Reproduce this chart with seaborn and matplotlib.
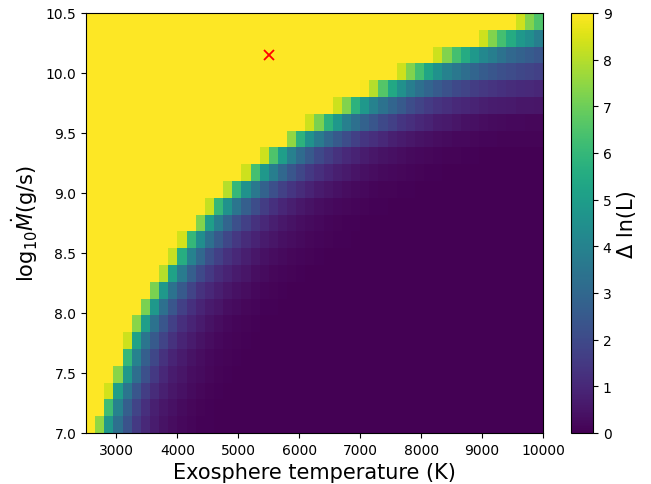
import numpy as np
import pandas as pd
import matplotlib
matplotlib.use("Agg")
import matplotlib.pyplot as plt
import seaborn as sns

# model grid: 50 temperature cells (150 K) and 25 mass-loss cells (0.14 dex)
t_min, t_max, n_t = 2500, 10000, 50
m_min, m_max, n_m = 7.0, 10.5, 25
vmax = 9

# saturated cells (delta lnL >= 9) at the start of each row, bottom row first
yellow_cols = [1, 2, 2, 3, 4, 4, 5, 6, 7, 8, 9, 10, 12, 13, 15, 17, 19, 22,
               24, 27, 30, 34, 38, 43, 47]

# delta lnL in the cells right of the saturated part (rest of row ~0)
row_values = [
    [7.5, 4.8, 3.3, 2.3, 1.5, 1.0, 0.7, 0.45, 0.3, 0.2, 0.12, 0.07, 0.04],
    [6.2, 4.0, 2.7, 1.8, 1.2, 0.8, 0.55, 0.4, 0.25, 0.15, 0.1, 0.06],
    [8.4, 5.0, 3.5, 2.4, 1.6, 1.1, 0.8, 0.55, 0.4, 0.25, 0.15, 0.1, 0.06],
    [7.4, 4.8, 3.2, 2.2, 1.5, 1.0, 0.7, 0.5, 0.35, 0.25, 0.15, 0.1, 0.06],
    [6.0, 4.0, 2.7, 1.9, 1.3, 0.9, 0.65, 0.45, 0.3, 0.2, 0.13, 0.08, 0.05],
    [8.3, 5.2, 3.5, 2.5, 1.8, 1.3, 0.9, 0.65, 0.45, 0.3, 0.2, 0.13, 0.08,
     0.05],
    [7.4, 5.0, 3.4, 2.4, 1.7, 1.2, 0.9, 0.65, 0.45, 0.3, 0.2, 0.13, 0.08,
     0.05],
    [7.2, 4.8, 3.3, 2.4, 1.7, 1.25, 0.9, 0.65, 0.5, 0.35, 0.25, 0.17, 0.11,
     0.07, 0.04],
    [7.2, 4.8, 3.4, 2.5, 1.8, 1.3, 1.0, 0.75, 0.55, 0.4, 0.3, 0.2, 0.14,
     0.09, 0.06],
    [8.0, 5.2, 3.7, 2.7, 2.0, 1.5, 1.1, 0.85, 0.65, 0.5, 0.35, 0.25, 0.17,
     0.12, 0.08, 0.05],
    [8.2, 5.6, 4.0, 3.0, 2.2, 1.7, 1.3, 1.0, 0.75, 0.55, 0.4, 0.3, 0.22,
     0.16, 0.11, 0.08, 0.05],
    [8.4, 6.0, 4.4, 3.3, 2.5, 1.9, 1.45, 1.1, 0.85, 0.65, 0.5, 0.38, 0.29,
     0.22, 0.16, 0.12, 0.09, 0.06, 0.04],
    [7.3, 5.0, 3.8, 2.9, 2.2, 1.7, 1.3, 1.0, 0.75, 0.57, 0.43, 0.33, 0.25,
     0.19, 0.14, 0.1, 0.07, 0.05],
    [8.2, 6.0, 4.6, 3.5, 2.7, 2.1, 1.6, 1.25, 0.95, 0.75, 0.58, 0.45, 0.35,
     0.27, 0.2, 0.15, 0.11, 0.08, 0.06, 0.04],
    [8.0, 6.0, 4.6, 3.6, 2.8, 2.2, 1.75, 1.4, 1.1, 0.85, 0.65, 0.5, 0.4, 0.3,
     0.23, 0.18, 0.14, 0.1, 0.08, 0.06, 0.05],
    [8.3, 6.3, 4.8, 3.8, 3.0, 2.4, 1.9, 1.5, 1.2, 0.95, 0.75, 0.6, 0.47,
     0.37, 0.3, 0.24, 0.19, 0.15, 0.12, 0.09, 0.07, 0.05],
    [8.3, 6.5, 5.0, 3.9, 3.1, 2.5, 2.0, 1.6, 1.3, 1.05, 0.85, 0.7, 0.55,
     0.45, 0.36, 0.3, 0.24, 0.2, 0.16, 0.13, 0.1, 0.08, 0.06, 0.05],
    [7.5, 5.8, 4.6, 3.7, 3.0, 2.5, 2.1, 1.7, 1.4, 1.2, 1.0, 0.8, 0.65, 0.55,
     0.45, 0.37, 0.3, 0.25, 0.21, 0.18, 0.15, 0.13, 0.11, 0.1, 0.09, 0.08,
     0.08, 0.08],
    [8.3, 7.2, 5.8, 4.8, 3.9, 3.3, 2.8, 2.4, 2.0, 1.7, 1.4, 1.2, 1.0, 0.85,
     0.7, 0.6, 0.5, 0.42, 0.36, 0.3, 0.26, 0.22, 0.2, 0.18, 0.16, 0.15],
    [8.3, 7.3, 5.8, 4.8, 4.0, 3.4, 2.9, 2.5, 2.1, 1.8, 1.55, 1.35, 1.2, 1.05,
     0.95, 0.85, 0.77, 0.7, 0.64, 0.6, 0.56, 0.53, 0.5],
    [8.9, 8.0, 6.6, 5.4, 4.5, 3.8, 3.3, 2.9, 2.55, 2.25, 2.0, 1.8, 1.6, 1.45,
     1.35, 1.25, 1.15, 1.08, 1.02, 0.96],
    [8.3, 7.3, 6.3, 5.3, 4.6, 4.0, 3.6, 3.2, 2.9, 2.6, 2.4, 2.2, 2.05, 1.9,
     1.8, 1.7],
    [8.3, 7.3, 6.3, 5.5, 4.8, 4.2, 3.8, 3.4, 3.0, 2.8, 2.6, 2.4],
    [8.3, 7.3, 6.3, 5.5, 4.8, 4.4, 3.8],
    [8.3, 7.3, 6.5],
]

# best fit marker
best_T = 5500
best_logM = 10.15

x_ticks = [3000, 4000, 5000, 6000, 7000, 8000, 9000, 10000]
y_ticks = [7.0, 7.5, 8.0, 8.5, 9.0, 9.5, 10.0, 10.5]
cbar_ticks = [0, 1, 2, 3, 4, 5, 6, 7, 8, 9]

dt = (t_max - t_min) / n_t
dm = (m_max - m_min) / n_m

grid = np.zeros((n_m, n_t))
for r in range(n_m):
    n_sat = yellow_cols[r]
    vals = row_values[r][:n_t - n_sat]
    grid[r, :n_sat] = vmax
    grid[r, n_sat:n_sat + len(vals)] = vals

temps = np.linspace(t_min + dt / 2, t_max - dt / 2, n_t)
logms = np.linspace(m_min + dm / 2, m_max - dm / 2, n_m)
df = pd.DataFrame(grid, index=np.round(logms, 2), columns=temps.astype(int))

fig = plt.figure(figsize=(6.51, 4.85), dpi=100)
ax = fig.add_axes([0.1321, 0.1052, 0.7020, 0.8660])
cax = fig.add_axes([0.8770, 0.1052, 0.0338, 0.8660])

sns.heatmap(df, ax=ax, cbar_ax=cax, cmap='viridis', vmin=0, vmax=vmax,
            xticklabels=False, yticklabels=False,
            cbar_kws={'ticks': cbar_ticks})
ax.invert_yaxis()

# map data coordinates onto heatmap cell coordinates
ax.set_xticks([(t - t_min) / dt for t in x_ticks])
ax.set_xticklabels([str(t) for t in x_ticks], fontsize=10)
ax.set_yticks([(m - m_min) / dm for m in y_ticks])
ax.set_yticklabels([f'{m:.1f}' for m in y_ticks], fontsize=10)
ax.tick_params(direction='out', length=3.5, width=0.8, color='black')
for s in ax.spines.values():
    s.set_visible(True)
    s.set_linewidth(0.8)
    s.set_color('black')

ax.plot((best_T - t_min) / dt, (best_logM - m_min) / dm, 'x', color='red',
        ms=7, mew=1.3)

ax.set_xlabel('Exosphere temperature (K)', fontsize=15)
ax.set_ylabel(r'log$_{10}\dot{M}$(g/s)', fontsize=15)

cbar = ax.collections[0].colorbar
cbar.outline.set_visible(True)
cbar.outline.set_linewidth(0.8)
cbar.outline.set_edgecolor('black')
cbar.set_label('Δ ln(L)', fontsize=15)
cax.tick_params(labelsize=10, length=3.5, width=0.8)

fig.savefig('out.png', dpi=100)
